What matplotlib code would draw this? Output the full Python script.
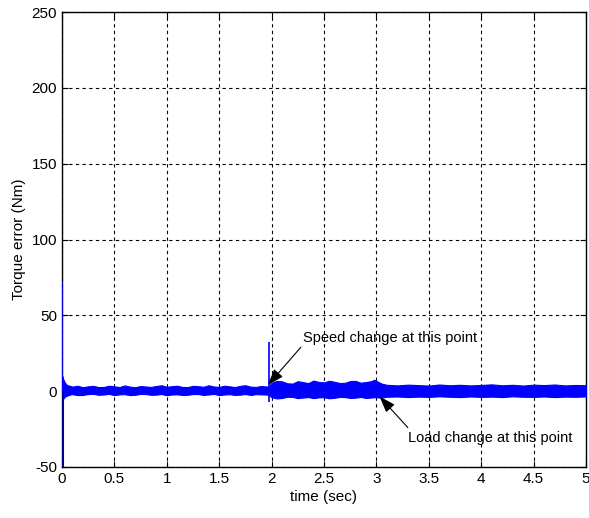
import matplotlib
matplotlib.use("Agg")
import matplotlib.pyplot as plt

plt.rcParams['font.family'] = ['Liberation Sans', 'DejaVu Sans']

# Envelope of the noisy torque-error band
t_env = [0.0, 0.004, 0.008, 0.012, 0.02, 0.03, 0.05, 0.08,
         0.1, 0.15, 0.2, 0.25, 0.3, 0.35, 0.4, 0.45, 0.5, 0.55, 0.6, 0.65, 0.7, 0.75,
         0.8, 0.85, 0.9, 0.95, 1.0, 1.05, 1.1, 1.15, 1.2, 1.25, 1.3, 1.35, 1.4, 1.45,
         1.5, 1.55, 1.6, 1.65, 1.7, 1.75, 1.8, 1.85, 1.9, 1.97,
         2.0, 2.05, 2.1, 2.15, 2.2, 2.25, 2.3, 2.35, 2.4, 2.45, 2.5, 2.55, 2.6, 2.65,
         2.7, 2.75, 2.8, 2.85, 2.9, 2.95, 2.98,
         3.05, 3.1, 3.2, 3.3, 3.4, 3.5, 3.6, 3.7, 3.8, 3.9, 4.0,
         4.1, 4.2, 4.3, 4.4, 4.5, 4.6, 4.7, 4.8, 4.9, 5.0]
upper = [2.0, 10.0, 9.0, 8.0, 7.0, 5.5, 4.0, 3.5,
         3.0, 3.6, 2.6, 3.2, 3.5, 2.7, 2.8, 3.6, 3.2, 2.7, 3.8, 3.0, 2.6, 3.4,
         3.1, 2.8, 3.4, 3.9, 2.9, 3.3, 3.6, 2.8, 2.7, 3.5, 3.3, 2.9, 3.9, 3.1,
         2.8, 3.6, 3.2, 2.7, 3.5, 3.9, 3.0, 2.8, 3.4, 3.0,
         5.5, 6.8, 6.5, 5.2, 5.0, 6.6, 6.0, 5.3, 7.0, 6.1, 5.8, 6.9, 6.2, 5.4,
         5.5, 6.7, 6.8, 5.6, 6.0, 6.6, 7.5,
         5.0, 4.2, 3.8, 4.3, 4.0, 3.7, 4.4, 3.9, 4.2, 3.8, 4.1,
         4.5, 3.9, 4.2, 3.7, 4.3, 4.0, 4.4, 3.8, 4.1, 3.9]
lower = [-2.0, -6.0, -5.5, -5.0, -4.5, -3.5, -3.0, -2.2,
         -2.0, -2.6, -2.5, -1.9, -1.8, -2.4, -2.2, -1.8, -2.6, -2.1, -2.0, -2.6,
         -2.4, -1.8, -1.9, -2.4, -2.3, -1.9, -2.7, -2.2, -2.1, -2.5, -2.4, -1.9,
         -1.9, -2.5, -2.2, -1.8, -2.6, -2.2, -2.0, -2.5, -2.3, -1.9, -2.5, -2.0,
         -2.1, -2.3,
         -4.0, -4.8, -4.5, -3.7, -3.8, -4.6, -4.2, -3.9, -4.6, -4.1, -4.0, -4.7,
         -4.4, -3.8, -3.9, -4.5, -4.3, -3.8, -4.5, -4.2, -4.0,
         -4.2, -3.7, -3.5, -3.9, -3.6, -3.8, -3.4, -3.7, -3.9, -3.5, -3.8,
         -3.6, -3.9, -3.4, -3.7, -3.8, -3.5, -3.9, -3.6, -3.7, -3.5]

# Spikes (time, min, max)
spike_t = [0.0, 1.98]
spike_lo = [-50.0, -7.0]
spike_hi = [72.0, 32.5]

x_ticks = [0, 0.5, 1, 1.5, 2, 2.5, 3, 3.5, 4, 4.5, 5]
x_labels = ['0', '0.5', '1', '1.5', '2', '2.5', '3', '3.5', '4', '4.5', '5']
y_ticks = [-50, 0, 50, 100, 150, 200, 250]
y_labels = ['-50', '0', '50', '100', '150', '200', '250']

fig = plt.figure(figsize=(5.89, 5.18), dpi=100)
ax = fig.add_axes([0.105, 0.0985, 0.89, 0.878])

blue = (0, 0, 1)
ax.fill_between(t_env, lower, upper, color=blue, linewidth=0.8, edgecolor=blue, zorder=3)
ax.vlines(spike_t, spike_lo, spike_hi, colors=[blue, blue], linewidth=1.2, zorder=3)
ax.vlines([spike_t[0]], [spike_lo[0]], [0], colors=['#00008b'], linewidth=2.2, zorder=3)

ax.set_xlim(0, 5)
ax.set_ylim(-50, 250)
ax.set_xticks(x_ticks)
ax.set_xticklabels(x_labels)
ax.set_yticks(y_ticks)
ax.set_yticklabels(y_labels)
ax.tick_params(direction='in', length=4, width=0.8, top=True, right=True,
               labelsize=11, colors='black')
ax.grid(True, color='black', linestyle=(0, (3, 3)), linewidth=0.8)
for s in ax.spines.values():
    s.set_linewidth(1.0)
    s.set_color('black')

ax.set_xlabel('time (sec)', fontsize=11, labelpad=3)
ax.set_ylabel('Torque error (Nm)', fontsize=11, labelpad=4)

arrow = dict(arrowstyle='-|>,head_length=1.0,head_width=0.35', color='black', lw=0.8,
             shrinkA=0, shrinkB=0)
ax.text(2.3, 35, 'Speed change at this point', fontsize=10.5, ha='left', va='center', zorder=5)
ax.annotate('', xy=(1.965, 4), xytext=(2.28, 29), arrowprops=dict(arrow), zorder=5)
ax.text(3.3, -31, 'Load change at this point', fontsize=10.5, ha='left', va='center', zorder=5)
ax.annotate('', xy=(3.03, -3.5), xytext=(3.3, -24), arrowprops=dict(arrow), zorder=5)

fig.savefig('out.png', dpi=100)
